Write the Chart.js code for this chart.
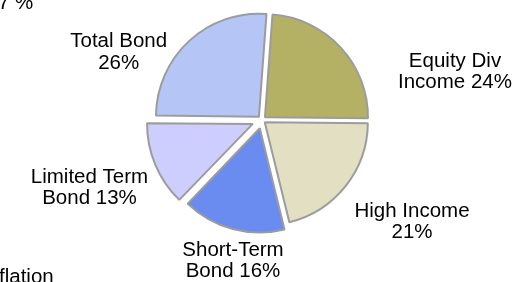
<!DOCTYPE html>
<html>
<head>
<meta charset="utf-8">
<script src="https://cdn.jsdelivr.net/npm/chart.js@4.4.1/dist/chart.umd.min.js"></script>
<style>
  html, body { margin: 0; padding: 0; background: #fff; }
  #wrap { width: 514px; height: 282px; }
</style>
</head>
<body>
<div id="wrap"><canvas id="graficoPizza" width="514" height="282"></canvas></div>
<script>
const categories = ['Equity Div Income', 'High Income', 'Short-Term Bond', 'Limited Term Bond', 'Total Bond'];
const values = [24, 21, 16, 13, 26];
// bits of labels from neighbouring charts, cut off by the frame
const cutTexts = ['7 %', 'flation'];

const colors = ['#b4b064', '#e2dfc3', '#6a8bef', '#cdcdfe', '#b4c5f6'];
// Chart.js moves an arc by offset/4 px
const offsets = [16, 14, 34, 40, 18];
// label anchors (centre x, first baseline) relative to the pie centre
const labelPos = [[193, -53.5], [150, 96.5], [-29, 135.5], [-172.5, 62.5], [-143.3, -73]];
const FONT = '20.5px "Liberation Sans", Arial, sans-serif';

function wrap(ctx, text, maxW) {
  const words = text.split(' ');
  const lines = [];
  let cur = '';
  words.forEach(w => {
    const t = cur ? cur + ' ' + w : w;
    if (cur && ctx.measureText(t).width > maxW) {
      lines.push(cur);
      cur = w;
    } else {
      cur = t;
    }
  });
  if (cur) lines.push(cur);
  return lines;
}

const labelsPlugin = {
  id: 'pieLabels',
  afterDatasetsDraw(chart) {
    const ctx = chart.ctx;
    const arc = chart.getDatasetMeta(0).data[0];
    const cx = arc.x, cy = arc.y;
    const total = values.reduce((a, b) => a + b, 0);
    ctx.save();
    ctx.font = FONT;
    ctx.fillStyle = '#000';
    ctx.textAlign = 'center';
    ctx.textBaseline = 'alphabetic';
    categories.forEach((cat, i) => {
      const pct = Math.round(values[i] / total * 100) + '%';
      const lines = wrap(ctx, cat + ' ' + pct, 125);
      const [dx, dy] = labelPos[i];
      lines.forEach((l, j) => ctx.fillText(l, cx + dx, cy + dy + j * 21.5));
    });
    ctx.textAlign = 'left';
    ctx.fillText(cutTexts[0], -2, 9);
    ctx.fillText(cutTexts[1], -1, 283);
    ctx.restore();
  }
};

const ctx = document.getElementById('graficoPizza').getContext('2d');

const grafico = new Chart(ctx, {
  type: 'pie',
  data: {
    labels: categories,
    datasets: [{
      data: values,
      backgroundColor: colors,
      borderColor: '#9c9c9c',
      borderWidth: 2,
      offset: offsets,
      hoverOffset: 0
    }]
  },
  options: {
    responsive: false,
    animation: false,
    events: [],
    rotation: 4.2,
    radius: 103,
    layout: {
      padding: { left: 10, right: 0, top: 0, bottom: 42 }
    },
    plugins: {
      legend: { display: false },
      tooltip: { enabled: false }
    }
  },
  plugins: [labelsPlugin]
});
</script>
</body>
</html>
